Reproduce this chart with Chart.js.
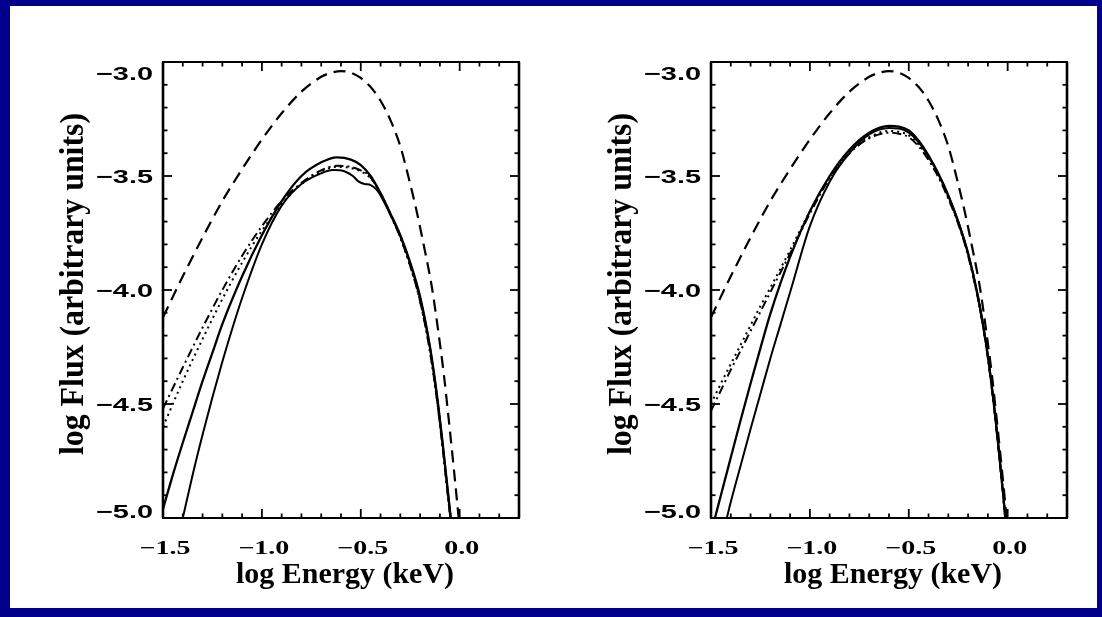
<!DOCTYPE html>
<html>
<head>
<meta charset="utf-8">
<title>log Flux vs log Energy</title>
<script src="https://cdn.jsdelivr.net/npm/chart.js@4.4.1/dist/chart.umd.min.js"></script>
<style>
    html, body { margin: 0; padding: 0; background: #00008c; }
    body { position: relative; width: 1102px; height: 617px; overflow: hidden; }
    .sheet { position: absolute; left: 10px; top: 6px; width: 1087px; height: 602px; background: #fff; }
    .sheet canvas { position: absolute; top: 0; }
    #fluxLeft { left: 0; }
    #fluxRight { left: 546px; }
</style>
</head>
<body>
<div class="sheet">
    <canvas id="fluxLeft" width="546" height="602"></canvas>
    <canvas id="fluxRight" width="541" height="602"></canvas>
</div>
<script>
// axes
const energyTicks = [-1.5, -1.0, -0.5, 0.0];
const energyTickLabels = ["\u22121.5", "\u22121.0", "\u22120.5", "0.0"];
const fluxTicks = [-3.0, -3.5, -4.0, -4.5, -5.0];
const fluxTickLabels = ["\u22123.0", "\u22123.5", "\u22124.0", "\u22124.5", "\u22125.0"];
const energyTitle = "log Energy (keV)";
const fluxTitle = "log Flux (arbitrary units)";

// dashed model spectrum, same in both panels
const modelE = [-1.50, -1.40, -1.30, -1.20, -1.10, -1.00, -0.90, -0.80, -0.70, -0.65, -0.60, -0.55, -0.50, -0.45, -0.40, -0.35, -0.30, -0.26, -0.22, -0.18, -0.14, -0.11, -0.08, -0.055, -0.03, -0.005];
const modelF = [-4.12, -3.94, -3.77, -3.61, -3.47, -3.34, -3.225, -3.13, -3.065, -3.047, -3.04, -3.047, -3.07, -3.11, -3.17, -3.255, -3.37, -3.50, -3.645, -3.81, -3.99, -4.17, -4.37, -4.57, -4.78, -5.0];

// left panel
const leftSolidAE = [-1.50, -1.45, -1.40, -1.35, -1.30, -1.25, -1.20, -1.10, -1.00, -0.90, -0.80, -0.70, -0.62, -0.55, -0.50, -0.45, -0.40, -0.35, -0.30, -0.25, -0.20, -0.15, -0.115, -0.085, -0.06, -0.045];
const leftSolidAF = [-4.96, -4.81, -4.67, -4.535, -4.40, -4.275, -4.15, -3.94, -3.76, -3.61, -3.50, -3.44, -3.418, -3.428, -3.452, -3.50, -3.576, -3.665, -3.76, -3.88, -4.03, -4.25, -4.46, -4.68, -4.88, -5.0];
const leftSolidBE = [-1.40, -1.35, -1.30, -1.25, -1.20, -1.15, -1.10, -1.00, -0.90, -0.80, -0.70, -0.64, -0.58, -0.54, -0.51, -0.48, -0.45, -0.42, -0.40, -0.35, -0.30, -0.25, -0.20, -0.15, -0.115, -0.085, -0.06, -0.045];
const leftSolidBF = [-5.0, -4.81, -4.635, -4.47, -4.315, -4.17, -4.035, -3.80, -3.63, -3.535, -3.488, -3.474, -3.48, -3.50, -3.525, -3.535, -3.54, -3.56, -3.585, -3.67, -3.765, -3.885, -4.035, -4.255, -4.465, -4.685, -4.885, -5.0];
const leftDashDotE = [-1.50, -1.40, -1.30, -1.20, -1.10, -1.00, -0.90, -0.80, -0.70, -0.62, -0.55, -0.50, -0.46, -0.42, -0.38, -0.35, -0.30, -0.25, -0.20, -0.15, -0.115, -0.085, -0.06, -0.047];
const leftDashDotF = [-4.52, -4.34, -4.165, -4.00, -3.85, -3.72, -3.61, -3.53, -3.475, -3.455, -3.46, -3.475, -3.496, -3.545, -3.61, -3.67, -3.77, -3.895, -4.05, -4.27, -4.48, -4.70, -4.90, -5.0];
const leftDotE = [-1.50, -1.40, -1.30, -1.20, -1.10, -1.00, -0.90, -0.80, -0.70, -0.62, -0.55, -0.50, -0.45, -0.40, -0.35, -0.30, -0.25, -0.20, -0.15, -0.115, -0.085, -0.06, -0.047];
const leftDotF = [-4.60, -4.40, -4.215, -4.04, -3.88, -3.74, -3.625, -3.535, -3.48, -3.46, -3.465, -3.48, -3.51, -3.575, -3.665, -3.77, -3.895, -4.05, -4.27, -4.48, -4.70, -4.90, -5.0];

// right panel
const rightSolidAE = [-1.48, -1.45, -1.40, -1.35, -1.30, -1.25, -1.20, -1.10, -1.00, -0.90, -0.80, -0.70, -0.60, -0.55, -0.50, -0.45, -0.40, -0.35, -0.30, -0.25, -0.20, -0.15, -0.11, -0.075, -0.045, -0.02, -0.012];
const rightSolidAF = [-5.0, -4.90, -4.735, -4.57, -4.41, -4.255, -4.105, -3.855, -3.655, -3.50, -3.385, -3.31, -3.28, -3.283, -3.30, -3.345, -3.41, -3.49, -3.585, -3.70, -3.84, -4.03, -4.23, -4.46, -4.70, -4.92, -5.0];
const rightSolidBE = [-1.42, -1.40, -1.35, -1.30, -1.25, -1.20, -1.15, -1.10, -1.00, -0.90, -0.80, -0.70, -0.60, -0.55, -0.50, -0.45, -0.40, -0.35, -0.30, -0.25, -0.20, -0.15, -0.11, -0.075, -0.045, -0.02, -0.012];
const rightSolidBF = [-5.0, -4.93, -4.77, -4.61, -4.455, -4.30, -4.155, -4.01, -3.72, -3.525, -3.40, -3.318, -3.29, -3.292, -3.31, -3.352, -3.415, -3.492, -3.587, -3.70, -3.84, -4.03, -4.23, -4.46, -4.70, -4.92, -5.0];
const rightThinE = [-1.50, -1.45, -1.40, -1.35, -1.30, -1.25, -1.20, -1.10, -1.00, -0.90, -0.80, -0.70, -0.60, -0.55, -0.50, -0.45, -0.40, -0.35, -0.30, -0.25, -0.20, -0.15, -0.11, -0.075, -0.045, -0.02, -0.012];
const rightDashDotF = [-4.53, -4.44, -4.35, -4.265, -4.18, -4.095, -4.01, -3.84, -3.665, -3.51, -3.40, -3.335, -3.31, -3.315, -3.33, -3.37, -3.43, -3.505, -3.60, -3.71, -3.85, -4.04, -4.24, -4.47, -4.71, -4.93, -5.0];
const rightDotF = [-4.50, -4.41, -4.325, -4.24, -4.155, -4.07, -3.99, -3.825, -3.655, -3.505, -3.395, -3.33, -3.302, -3.306, -3.322, -3.362, -3.422, -3.50, -3.595, -3.705, -3.845, -4.035, -4.235, -4.465, -4.705, -4.925, -5.0];

const SOLID = [];
const DASHED = [12, 7];
const DOTTED = [2, 4];
const DASH_DOT = [9, 4, 2, 4];

function curve(es, fs, dash, width) {
    return {
        data: es.map((e, i) => ({ x: e, y: fs[i] })),
        borderColor: "#000",
        borderWidth: width || 2,
        borderDash: dash,
        pointRadius: 0,
        clip: 0,
        cubicInterpolationMode: "monotone",
    };
}

function line(ctx, x1, y1, x2, y2) {
    ctx.beginPath();
    ctx.moveTo(x1, y1);
    ctx.lineTo(x2, y2);
    ctx.stroke();
}

// text stretched horizontally by sx
function stretchedText(ctx, text, x, y, sx, align) {
    ctx.save();
    ctx.translate(x, y);
    ctx.scale(sx, 1);
    ctx.textAlign = align;
    ctx.textBaseline = "alphabetic";
    ctx.fillText(text, 0, 0);
    ctx.restore();
}

// IDL style box: ticks pointing inward on all four sides, labels and titles
const frame = {
    id: "frame",
    afterDraw(chart) {
        const { ctx, chartArea: a } = chart;
        const x = chart.scales.x;
        const y = chart.scales.y;
        ctx.save();
        ctx.strokeStyle = "#000";
        ctx.fillStyle = "#000";

        ctx.lineWidth = 2;
        line(ctx, a.left - 1, a.top, a.right + 1, a.top);
        line(ctx, a.left - 1, a.bottom, a.right + 1, a.bottom);
        ctx.lineWidth = 2.6;
        line(ctx, a.left, a.top, a.left, a.bottom);
        line(ctx, a.right, a.top, a.right, a.bottom);

        ctx.lineWidth = 1.8;
        for (let i = Math.round(x.min * 10); i <= Math.round(x.max * 10); i++) {
            const px = x.getPixelForValue(i / 10);
            const len = i % 5 === 0 ? 9 : 4.5;
            line(ctx, px, a.bottom, px, a.bottom - len);
            line(ctx, px, a.top, px, a.top + len);
        }
        for (let i = Math.round(y.min * 10); i <= Math.round(y.max * 10); i++) {
            const py = y.getPixelForValue(i / 10);
            const len = i % 5 === 0 ? 9 : 4.5;
            line(ctx, a.left, py, a.left + len, py);
            line(ctx, a.right, py, a.right - len, py);
        }

        // energy tick labels
        ctx.font = 'bold 19px "Liberation Serif"';
        const ex = 35 / ctx.measureText("0.0").width;
        energyTicks.forEach((v, i) => {
            stretchedText(ctx, energyTickLabels[i], x.getPixelForValue(v) + 2, a.bottom + 36, ex, "center");
        });

        // flux tick labels, end labels kept inside the box height
        ctx.font = 'bold 18.5px "Liberation Sans"';
        const fx = 57 / ctx.measureText(fluxTickLabels[0]).width;
        fluxTicks.forEach((v, i) => {
            const py = Math.min(Math.max(y.getPixelForValue(v) + 7, a.top + 18), a.bottom);
            stretchedText(ctx, fluxTickLabels[i], a.left - 10, py, fx, "right");
        });

        // axis titles
        ctx.font = 'bold 30px "Liberation Serif"';
        const tx = 218 / ctx.measureText(energyTitle).width;
        stretchedText(ctx, energyTitle, (a.left + a.right) / 2 + 4, a.bottom + 65, tx, "center");

        const ty = 342 / ctx.measureText(fluxTitle).width;
        ctx.save();
        ctx.translate(a.left - 80, (a.top + a.bottom) / 2 - 6);
        ctx.rotate(-Math.PI / 2);
        ctx.scale(ty, 1.1);
        ctx.textAlign = "center";
        ctx.textBaseline = "alphabetic";
        ctx.fillText(fluxTitle, 0, 0);
        ctx.restore();

        ctx.restore();
    },
};

function panel(id, datasets, padding) {
    return new Chart(document.getElementById(id), {
        type: "line",
        data: { datasets: datasets },
        options: {
            responsive: false,
            animation: false,
            events: [],
            layout: { padding: padding },
            plugins: {
                legend: { display: false },
                tooltip: { enabled: false },
            },
            scales: {
                x: { type: "linear", min: -1.5, max: 0.3, display: false },
                y: { type: "linear", min: -5.0, max: -3.0, display: false },
            },
        },
        plugins: [frame],
    });
}

panel("fluxLeft", [
    curve(modelE, modelF, DASHED, 2.2),
    curve(leftDotE, leftDotF, DOTTED),
    curve(leftDashDotE, leftDashDotF, DASH_DOT),
    curve(leftSolidBE, leftSolidBF, SOLID),
    curve(leftSolidAE, leftSolidAF, SOLID, 2.3),
], { left: 153, top: 56, right: 37, bottom: 90 });

panel("fluxRight", [
    curve(modelE, modelF, DASHED, 2.2),
    curve(rightThinE, rightDotF, DOTTED),
    curve(rightThinE, rightDashDotF, DASH_DOT),
    curve(rightSolidBE, rightSolidBF, SOLID),
    curve(rightSolidAE, rightSolidAF, SOLID, 2.3),
], { left: 155, top: 56, right: 30, bottom: 90 });
</script>
</body>
</html>
